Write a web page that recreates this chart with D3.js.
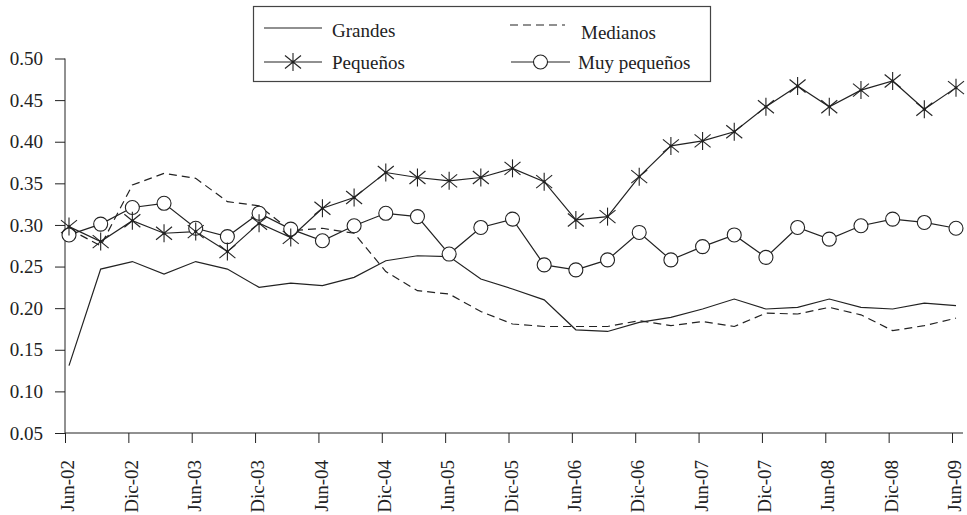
<!DOCTYPE html>
<html><head><meta charset="utf-8">
<script src="https://cdn.jsdelivr.net/npm/d3@7"></script>
<style>
body{margin:0;background:#fff;}
svg text{font-family:"Liberation Serif",Tinos,"Nimbus Roman","Nimbus Roman No9 L",FreeSerif,"Times New Roman",Times,"DejaVu Serif","Noto Serif",serif !important;fill:#222;}
</style></head>
<body><svg id="c" width="967" height="515"></svg>
<script>
const categories = ["Jun-02","Sep-02","Dic-02","Mar-03","Jun-03","Sep-03","Dic-03","Mar-04","Jun-04","Sep-04","Dic-04","Mar-05","Jun-05","Sep-05","Dic-05","Mar-06","Jun-06","Sep-06","Dic-06","Mar-07","Jun-07","Sep-07","Dic-07","Mar-08","Jun-08","Sep-08","Dic-08","Mar-09","Jun-09"];
const tickLabels = ["Jun-02","Dic-02","Jun-03","Dic-03","Jun-04","Dic-04","Jun-05","Dic-05","Jun-06","Dic-06","Jun-07","Dic-07","Jun-08","Dic-08","Jun-09"];
const yTicks = [0.05,0.10,0.15,0.20,0.25,0.30,0.35,0.40,0.45,0.50];
const grandes = [0.131,0.247,0.256,0.241,0.256,0.247,0.225,0.230,0.227,0.237,0.257,0.263,0.262,0.235,0.223,0.210,0.174,0.172,0.183,0.189,0.199,0.211,0.199,0.201,0.211,0.201,0.199,0.206,0.203];
const medianos = [0.295,0.275,0.348,0.362,0.356,0.328,0.323,0.293,0.296,0.290,0.244,0.221,0.217,0.196,0.181,0.178,0.178,0.178,0.185,0.179,0.184,0.178,0.194,0.193,0.201,0.192,0.173,0.179,0.188];
const pequenos = [0.298,0.280,0.305,0.290,0.292,0.268,0.302,0.285,0.320,0.333,0.363,0.357,0.353,0.357,0.368,0.352,0.306,0.310,0.358,0.395,0.401,0.412,0.442,0.467,0.442,0.462,0.473,0.439,0.465];
const muyPequenos = [0.288,0.301,0.321,0.326,0.296,0.286,0.314,0.295,0.281,0.299,0.314,0.310,0.265,0.297,0.307,0.252,0.246,0.258,0.291,0.258,0.274,0.288,0.261,0.297,0.283,0.299,0.307,0.303,0.296];

const FONT = '"Liberation Serif",Tinos,"Nimbus Roman",FreeSerif,"Times New Roman",Times,"DejaVu Serif",serif';
const svg = d3.select("#c");
const ink = "#222";
const x = d3.scalePoint().domain(categories).range([69, 956]);
const y = d3.scaleLinear().domain([0.05, 0.5]).range([433, 58.5]);
const axisX0 = 65;

// Y axis
const yAxis = d3.axisLeft(y).tickValues(yTicks).tickFormat(d3.format(".2f")).tickSize(10).tickPadding(12);
const gy = svg.append("g").attr("transform", `translate(${axisX0},0)`).call(yAxis)
  .attr("font-family", FONT).attr("font-size", 19);
gy.select(".domain").remove();
gy.selectAll(".tick line").attr("stroke", ink);
gy.selectAll(".tick text").attr("fill", ink);
svg.append("line").attr("x1", axisX0).attr("x2", axisX0).attr("y1", y(0.5)).attr("y2", y(0.05)).attr("stroke", ink);

// X axis
svg.append("line").attr("x1", axisX0).attr("x2", 963).attr("y1", y(0.05)).attr("y2", y(0.05)).attr("stroke", ink);
const xAxis = d3.axisBottom(x).tickValues(tickLabels).tickSize(10);
const gx = svg.append("g").attr("transform", `translate(-4,${y(0.05)})`).call(xAxis)
  .attr("font-family", FONT).attr("font-size", 19);
gx.select(".domain").remove();
gx.selectAll(".tick line").attr("stroke", ink);
gx.selectAll(".tick text")
  .attr("fill", ink)
  .attr("text-anchor", "end")
  .attr("transform", "translate(2,27) rotate(-90)")
  .attr("x", 0).attr("y", 0).attr("dy", "0.35em");

const line = d3.line().x((d, i) => x(categories[i])).y(d => y(d));

svg.append("path").datum(grandes).attr("d", line).attr("fill", "none").attr("stroke", ink).attr("stroke-width", 1.2);
svg.append("path").datum(medianos).attr("d", line).attr("fill", "none").attr("stroke", ink).attr("stroke-width", 1.2).attr("stroke-dasharray", "8,5");
svg.append("path").datum(pequenos).attr("d", line).attr("fill", "none").attr("stroke", ink).attr("stroke-width", 1.2);
svg.append("path").datum(muyPequenos).attr("d", line).attr("fill", "none").attr("stroke", ink).attr("stroke-width", 1.2);

function star(g, cx, cy) {
  const s = g.append("g").attr("transform", `translate(${cx},${cy})`).attr("stroke", ink).attr("stroke-width", 1.1);
  s.append("line").attr("x1", 0).attr("y1", -9).attr("x2", 0).attr("y2", 9);
  s.append("line").attr("x1", -8).attr("y1", -6.5).attr("x2", 8).attr("y2", 6.5);
  s.append("line").attr("x1", -8).attr("y1", 6.5).attr("x2", 8).attr("y2", -6.5);
  s.append("circle").attr("r", 1.5).attr("fill", ink).attr("stroke", "none");
}
function ring(g, cx, cy) {
  g.append("circle").attr("cx", cx).attr("cy", cy).attr("r", 7).attr("fill", "#fff").attr("stroke", ink).attr("stroke-width", 1.1);
}
const gm1 = svg.append("g");
muyPequenos.forEach((d, i) => ring(gm1, x(categories[i]), y(d)));
const gm2 = svg.append("g");
pequenos.forEach((d, i) => star(gm2, x(categories[i]), y(d)));

// Legend
const lg = svg.append("g").attr("font-family", FONT).attr("font-size", 19);
lg.append("rect").attr("x", 253.5).attr("y", 6.5).attr("width", 457).attr("height", 75).attr("fill", "#fff").attr("stroke", "#444").attr("stroke-width", 1.2);
const rows = [
  {name: "Grandes", x1: 264, x2: 322, ly: 28, tx: 332, ty: 37, dash: null, mk: null},
  {name: "Medianos", x1: 510, x2: 565, ly: 25, tx: 581, ty: 39, dash: "8,5", mk: null},
  {name: "Pequeños", x1: 264, x2: 322, ly: 62, tx: 332, ty: 69, dash: null, mk: "star"},
  {name: "Muy pequeños", x1: 511, x2: 570, ly: 62, tx: 578, ty: 69, dash: null, mk: "ring"}
];
rows.forEach(r => {
  lg.append("line").attr("x1", r.x1).attr("x2", r.x2).attr("y1", r.ly).attr("y2", r.ly)
    .attr("stroke", ink).attr("stroke-width", 1.2).attr("stroke-dasharray", r.dash);
  if (r.mk === "star") star(lg, (r.x1 + r.x2) / 2, r.ly);
  if (r.mk === "ring") ring(lg, (r.x1 + r.x2) / 2, r.ly);
  lg.append("text").attr("x", r.tx).attr("y", r.ty).text(r.name);
});
</script></body></html>
